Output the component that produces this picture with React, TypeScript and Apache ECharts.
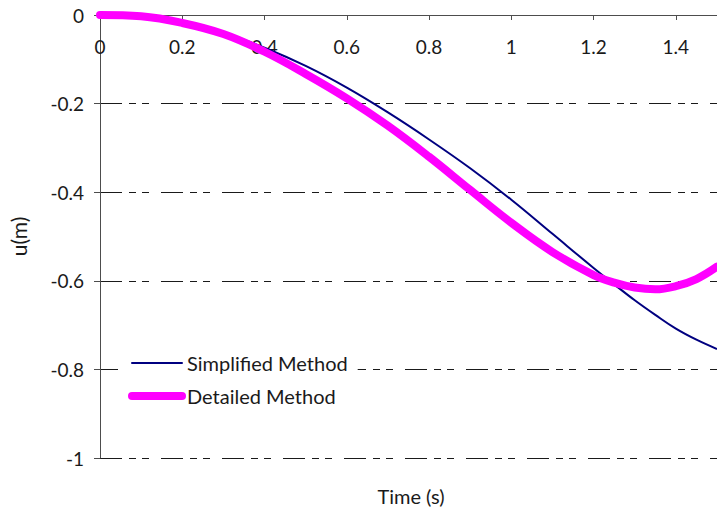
import React, { useEffect, useRef } from "react";
import * as echarts from "echarts";

const timeValues = [0, 0.1, 0.2, 0.3, 0.4, 0.5, 0.6, 0.7, 0.8, 0.9, 1.0, 1.1, 1.2, 1.25, 1.3, 1.35, 1.4, 1.45, 1.5];
const simplifiedValues = [0, -0.004, -0.017, -0.04, -0.074, -0.115, -0.164, -0.22, -0.281, -0.346, -0.417, -0.494, -0.571, -0.608, -0.644, -0.677, -0.708, -0.733, -0.754];
const detailedValues = [0, -0.003, -0.018, -0.043, -0.083, -0.133, -0.188, -0.25, -0.32, -0.395, -0.469, -0.535, -0.587, -0.604, -0.615, -0.619, -0.612, -0.596, -0.568];
const seriesNames = ["Simplified Method", "Detailed Method"];
const xAxisTitle = "Time (s)";
const yAxisTitle = "u(m)";

const FONT = "Lato";
const TEXT = "#1a1a1a";
const AXIS = "#4d4d4d";

export default function App() {
  const ref = useRef<HTMLDivElement>(null);
  useEffect(() => {
    const chart = echarts.init(ref.current!, null, { renderer: "svg" });
    chart.setOption({
      animation: false,
      backgroundColor: "#ffffff",
      textStyle: { fontFamily: FONT },
      grid: { left: 100, top: 15, right: -3, bottom: 57 },
      xAxis: {
        type: "value",
        position: "top",
        min: 0,
        max: 1.5,
        interval: 0.2,
        axisLine: { show: true, lineStyle: { color: AXIS, width: 1 } },
        axisTick: { show: true, inside: true, length: 5, lineStyle: { color: AXIS } },
        axisLabel: { inside: true, margin: 22, fontSize: 19, color: TEXT, fontFamily: FONT, showMaxLabel: false },
        splitLine: { show: false },
      },
      yAxis: {
        type: "value",
        min: -1,
        max: 0,
        interval: 0.2,
        name: yAxisTitle,
        nameLocation: "middle",
        nameGap: 71,
        nameTextStyle: { fontSize: 21, color: TEXT, fontFamily: FONT },
        axisLine: { show: true, lineStyle: { color: AXIS, width: 1 } },
        axisTick: { show: true, length: 6, lineStyle: { color: AXIS } },
        axisLabel: { margin: 16, fontSize: 19, color: TEXT, fontFamily: FONT },
        splitLine: { show: true, lineStyle: { color: "#1a1a1a", width: 1, type: [22, 7, 7, 6, 7, 12] } },
      },
      legend: {
        orient: "vertical",
        left: 118,
        top: 345,
        padding: [8, 10, 8, 10],
        backgroundColor: "#ffffff",
        itemWidth: 50,
        itemHeight: 20,
        itemGap: 13,
        itemStyle: { opacity: 0 },
        lineStyle: { width: "inherit", cap: "round" },
        textStyle: { fontSize: 20, color: TEXT, fontFamily: FONT, lineHeight: 20 },
        data: seriesNames,
      },
      graphic: [
        {
          type: "text",
          x: 411,
          y: 496,
          style: { text: xAxisTitle, fontSize: 20, fontFamily: FONT, fill: TEXT, align: "center", verticalAlign: "middle" },
        },
      ],
      series: [
        {
          name: seriesNames[0],
          type: "line",
          data: timeValues.map((t, i) => [t, simplifiedValues[i]]),
          symbol: "none",
          smooth: 0.4,
          lineStyle: { color: "#000080", width: 2 },
          itemStyle: { color: "#000080" },
        },
        {
          name: seriesNames[1],
          type: "line",
          data: timeValues.map((t, i) => [t, detailedValues[i]]),
          symbol: "none",
          smooth: 0.4,
          lineStyle: { color: "#ff00ff", width: 8, cap: "round" },
          itemStyle: { color: "#ff00ff" },
        },
      ],
    });
    return () => chart.dispose();
  }, []);
  return (
    <div
      ref={ref}
      style={{ position: "fixed", left: 0, top: 0, width: 717, height: 515, background: "#fff" }}
    />
  );
}
